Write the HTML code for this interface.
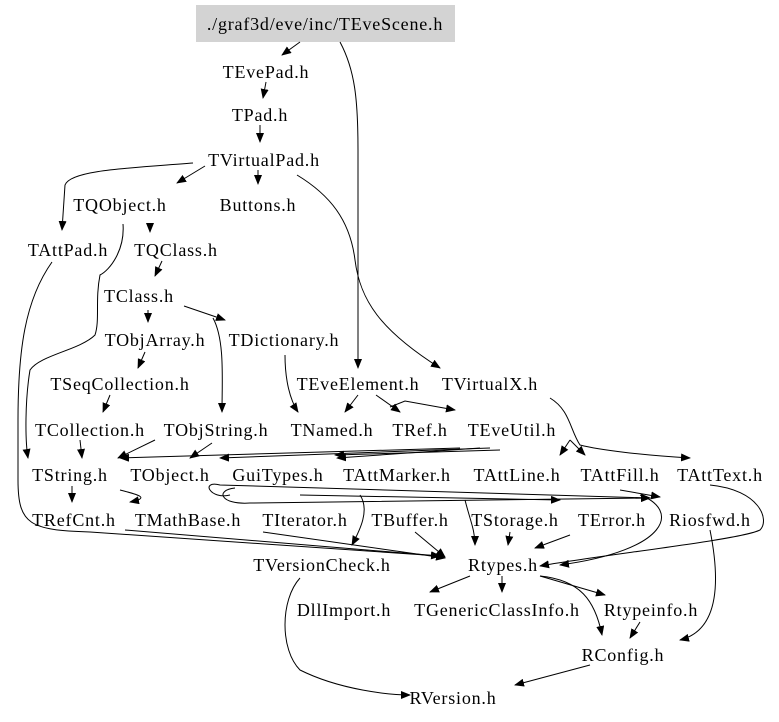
<!DOCTYPE html>
<html><head><meta charset="utf-8"><style>
html,body{margin:0;padding:0;background:#fff;}
svg{display:block}
text{font-family:"Liberation Serif",serif;font-size:18px;letter-spacing:0.8px;fill:#000;text-anchor:middle}
path{fill:none;stroke:#000;stroke-width:1}
</style></head><body>
<svg width="779" height="722" viewBox="0 0 779 722" xmlns="http://www.w3.org/2000/svg">
<defs><marker id="a" markerWidth="10" markerHeight="8" refX="9" refY="4" orient="auto" markerUnits="userSpaceOnUse"><polygon points="0,0 10,4 0,8" fill="#000"/></marker></defs>
<rect x="196" y="5" width="259" height="37" fill="#d3d3d3"/>
<text x="325" y="30">./graf3d/eve/inc/TEveScene.h</text>
<g marker-end="url(#a)">
<path d="M300,42 L282,55"/>
<path d="M340,42 C355,70 358,100 358,150 L358,368"/>
<path d="M266,82 L263,98"/>
<path d="M260,125 L260,142"/>
<path d="M205,166 L177,183"/>
<path d="M258,170 L258,184"/>
<path d="M193,163 C130,168 70,170 65,185 L62,230"/>
<path d="M297,175 C330,195 350,220 355,260 C360,300 380,330 440,368"/>
<path d="M150,226 L150,232"/>
<path d="M162,261 L155,276"/>
<path d="M184,306 L225,320"/>
<path d="M148,310 L148,322"/>
<path d="M145,352 L138,368"/>
<path d="M123,224 C125,250 110,270 100,275 C95,300 100,320 95,335 C80,350 40,355 30,370 C25,400 25,440 28,458"/>
<path d="M110,395 L103,412"/>
<path d="M213,318 C225,340 222,380 222,412"/>
<path d="M285,355 C285,380 290,400 298,412"/>
<path d="M358,395 L345,412"/>
<path d="M376,395 L400,412"/>
<path d="M390,407 L405,401 L455,410"/>
<path d="M550,398 C570,410 570,430 580,445 C600,450 640,455 690,458"/>
<path d="M570,440 L560,455"/>
<path d="M570,440 L585,455"/>
<path d="M80,440 L82,458"/>
<path d="M155,440 L118,458"/>
<path d="M212,443 L190,458"/>
<path d="M460,448 L120,458"/>
<path d="M480,448 L337,458"/>
<path d="M490,448 L220,458"/>
<path d="M500,450 L335,455"/>
<path d="M72,486 L72,502"/>
<path d="M120,490 C140,495 150,498 130,502"/>
<path d="M235,488 C215,490 220,505 250,503 L650,498"/>
<path d="M300,495 L560,500"/>
<path d="M230,495 C210,500 200,480 220,485 L650,498"/>
<path d="M620,490 L660,497"/>
<path d="M710,485 C760,490 770,520 760,530 C740,540 600,555 540,566"/>
<path d="M52,262 C25,300 18,350 18,420 L18,480 C18,525 30,530 90,532 L440,556"/>
<path d="M125,530 L440,556"/>
<path d="M263,532 L445,558"/>
<path d="M360,495 C370,510 360,530 352,545"/>
<path d="M415,532 L445,557"/>
<path d="M465,500 C470,520 475,530 475,545"/>
<path d="M510,532 L508,545"/>
<path d="M570,535 L535,548"/>
<path d="M640,495 C680,510 670,550 560,565"/>
<path d="M470,576 L430,592"/>
<path d="M502,576 L502,592"/>
<path d="M540,576 L605,595"/>
<path d="M540,576 C580,580 595,600 602,635"/>
<path d="M710,530 C720,580 720,630 680,640"/>
<path d="M640,622 L630,638"/>
<path d="M590,665 L515,685"/>
<path d="M300,578 C280,600 280,650 300,670 C340,690 390,695 410,695"/>
</g>
<text x="266" y="78">TEvePad.h</text>
<text x="260" y="121">TPad.h</text>
<text x="264" y="166">TVirtualPad.h</text>
<text x="120" y="211">TQObject.h</text>
<text x="258" y="211">Buttons.h</text>
<text x="68" y="256">TAttPad.h</text>
<text x="176" y="256">TQClass.h</text>
<text x="139" y="302">TClass.h</text>
<text x="155" y="346">TObjArray.h</text>
<text x="284" y="346">TDictionary.h</text>
<text x="120" y="390">TSeqCollection.h</text>
<text x="358" y="390">TEveElement.h</text>
<text x="490" y="390">TVirtualX.h</text>
<text x="90" y="436">TCollection.h</text>
<text x="216" y="436">TObjString.h</text>
<text x="332" y="436">TNamed.h</text>
<text x="420" y="436">TRef.h</text>
<text x="512" y="436">TEveUtil.h</text>
<text x="70" y="481">TString.h</text>
<text x="170" y="481">TObject.h</text>
<text x="278" y="481">GuiTypes.h</text>
<text x="397" y="481">TAttMarker.h</text>
<text x="517" y="481">TAttLine.h</text>
<text x="620" y="481">TAttFill.h</text>
<text x="720" y="481">TAttText.h</text>
<text x="74" y="526">TRefCnt.h</text>
<text x="188" y="526">TMathBase.h</text>
<text x="305" y="526">TIterator.h</text>
<text x="410" y="526">TBuffer.h</text>
<text x="515" y="526">TStorage.h</text>
<text x="612" y="526">TError.h</text>
<text x="710" y="526">Riosfwd.h</text>
<text x="322" y="571">TVersionCheck.h</text>
<text x="503" y="571">Rtypes.h</text>
<text x="344" y="616">DllImport.h</text>
<text x="497" y="616">TGenericClassInfo.h</text>
<text x="651" y="616">Rtypeinfo.h</text>
<text x="623" y="661">RConfig.h</text>
<text x="453" y="704">RVersion.h</text>
</svg>
</body></html>
